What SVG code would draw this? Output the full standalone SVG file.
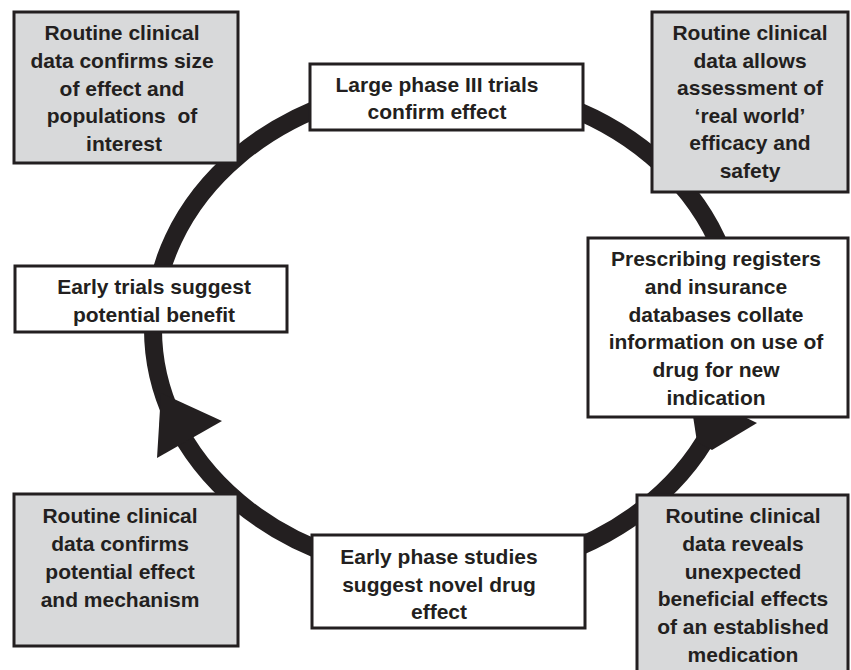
<svg xmlns="http://www.w3.org/2000/svg" width="851" height="670" viewBox="0 0 851 670">
<style>
.box{stroke:#231f20;stroke-width:3}
.g{fill:#d8d9da}
.w{fill:#ffffff}
text{font-family:"Liberation Sans",Arial,sans-serif;font-weight:bold;font-size:21px;fill:#231f20;text-anchor:middle}
.ring{fill:none;stroke:#231f20;stroke-width:18}
.head{fill:#231f20}
</style>
<rect x="0" y="0" width="851" height="670" fill="#ffffff"/>
<g id="connectors">
<ellipse class="ring" cx="445" cy="329" rx="292" ry="245"/>
<polygon class="head" points="157,458 222,421 161,393"/>
<polygon class="head" points="689,390 757,423 712,450 697,442"/>
</g>
<g id="n1">
<rect class="box g" x="14" y="12" width="224" height="151"/>
<text x="122" y="40">Routine clinical</text>
<text x="122" y="67.8">data confirms size</text>
<text x="122" y="95.6">of effect and</text>
<text x="122" y="123.4" xml:space="preserve">populations  of</text>
<text x="124" y="151.2">interest</text>
</g>
<g id="n2">
<rect class="box g" x="652" y="12" width="196" height="180"/>
<text x="750" y="40">Routine clinical</text>
<text x="750" y="67.6">data allows</text>
<text x="750" y="95.2">assessment of</text>
<text x="750" y="122.8">‘real world’</text>
<text x="750" y="150.4">efficacy and</text>
<text x="750" y="178">safety</text>
</g>
<g id="n3">
<rect class="box w" x="310" y="64" width="273" height="66"/>
<text x="437" y="92">Large phase III trials</text>
<text x="437" y="119">confirm effect</text>
</g>
<g id="n4">
<rect class="box w" x="15" y="266" width="272" height="66"/>
<text x="154" y="294">Early trials suggest</text>
<text x="154" y="321.5">potential benefit</text>
</g>
<g id="n5">
<rect class="box w" x="588" y="238" width="260" height="179"/>
<text x="716" y="266">Prescribing registers</text>
<text x="716" y="293.8">and insurance</text>
<text x="716" y="321.6">databases collate</text>
<text x="716" y="349.4">information on use of</text>
<text x="716" y="377.2">drug for new</text>
<text x="716" y="405">indication</text>
</g>
<g id="n6">
<rect class="box g" x="14" y="494" width="224" height="152"/>
<text x="120" y="523">Routine clinical</text>
<text x="120" y="551">data confirms</text>
<text x="120" y="579">potential effect</text>
<text x="120" y="607">and mechanism</text>
</g>
<g id="n7">
<rect class="box w" x="312" y="535" width="273" height="93"/>
<text x="439" y="564">Early phase studies</text>
<text x="439" y="591.5">suggest novel drug</text>
<text x="439" y="619">effect</text>
</g>
<g id="n8">
<rect class="box g" x="637" y="495" width="211" height="190"/>
<text x="743" y="523">Routine clinical</text>
<text x="743" y="550.8">data reveals</text>
<text x="743" y="578.6">unexpected</text>
<text x="743" y="606.4">beneficial effects</text>
<text x="743" y="634.2">of an established</text>
<text x="743" y="662">medication</text>
</g>
</svg>
